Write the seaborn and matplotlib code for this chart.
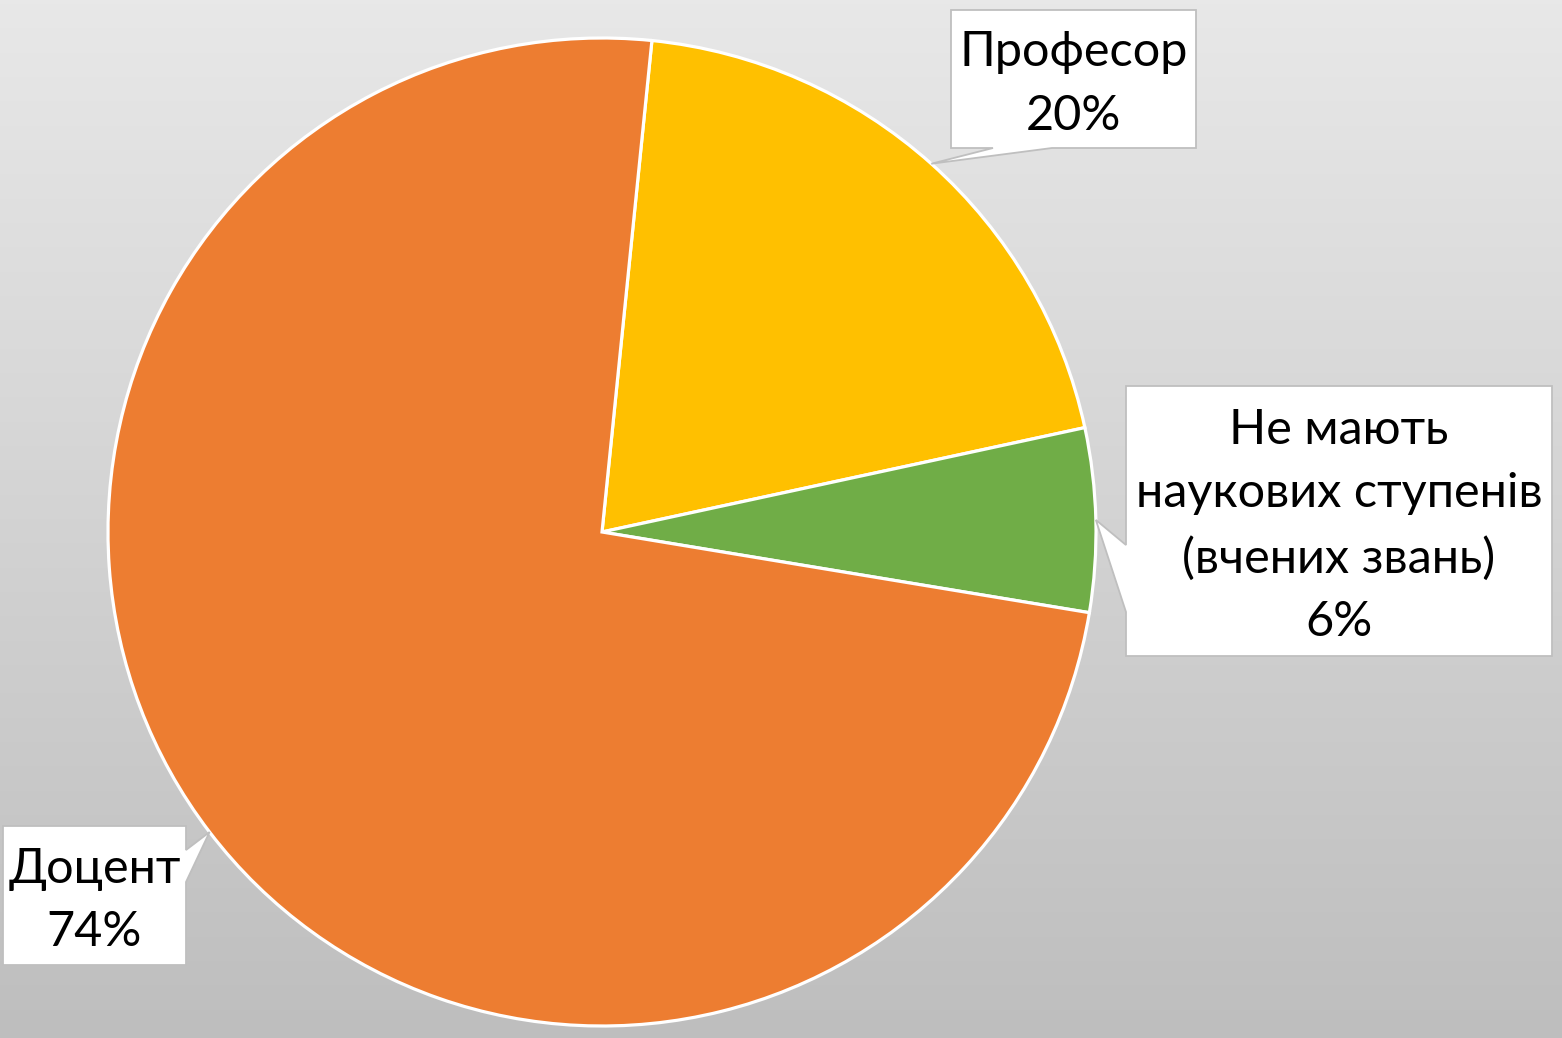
import numpy as np
import matplotlib
matplotlib.use("Agg")
import matplotlib.pyplot as plt
from matplotlib.patches import Polygon
import seaborn as sns

# Academic staff by degree / title
categories = ["Професор", "Не мають\nнаукових ступенів\n(вчених звань)", "Доцент"]
shares = [20, 6, 74]
colors = ["#FFC000", "#70AD47", "#ED7D31"]

sns.set_theme(style="white")
plt.rcParams["font.family"] = ["Lato", "DejaVu Sans"]

W, H = 1562, 1038
fig = plt.figure(figsize=(W / 100, H / 100), dpi=100)

# gradient backdrop
bg = fig.add_axes([0, 0, 1, 1], zorder=0)
grad = np.linspace(0, 1, 256).reshape(-1, 1)
top, bottom = np.array([0xE8, 0xE8, 0xE8]) / 255, np.array([0xBE, 0xBE, 0xBE]) / 255
img = top[None, None, :] * (1 - grad[..., None]) + bottom[None, None, :] * grad[..., None]
bg.imshow(img, aspect="auto", extent=[0, W, H, 0])
bg.set_xlim(0, W)
bg.set_ylim(H, 0)
bg.axis("off")

# pie
cx, cy, R = 602, 532, 494
start = 84.2
pax = fig.add_axes([(cx - R) / W, (H - cy - R) / H, 2 * R / W, 2 * R / H], zorder=1)
pax.pie(shares, colors=colors, startangle=start, counterclock=False, radius=1,
        wedgeprops=dict(edgecolor="white", linewidth=2.3))
pax.set_xlim(-1, 1)
pax.set_ylim(-1, 1)
pax.set_aspect("equal")
pax.axis("off")

# callout overlay in pixel coordinates
ov = fig.add_axes([0, 0, 1, 1], zorder=2)
ov.set_xlim(0, W)
ov.set_ylim(H, 0)
ov.patch.set_alpha(0)
ov.axis("off")

total = sum(shares)
cum = np.cumsum([0] + shares[:-1])
mids = [start - 360 * (c + v / 2) / total for c, v in zip(cum, shares)]
tips = [(cx + R * np.cos(np.radians(a)), cy - R * np.sin(np.radians(a))) for a in mids]

# box (x0, y0, x1, y1), side holding the pointer, pointer base span
boxes = [
    ((951, 10, 1196, 148), "bottom", (993, 1052)),
    ((1126, 386, 1552, 656), "left", (545, 612)),
    ((3, 826, 186, 965), "right", (850, 882)),
]

for (box, side, span), tip, cat, v in zip(boxes, tips, categories, shares):
    x0, y0, x1, y1 = box
    if side == "bottom":
        pts = [(x0, y0), (x1, y0), (x1, y1), (span[1], y1), tip, (span[0], y1), (x0, y1)]
    elif side == "left":
        pts = [(x0, y0), (x1, y0), (x1, y1), (x0, y1), (x0, span[1]), tip, (x0, span[0])]
    else:
        pts = [(x0, y0), (x1, y0), (x1, span[0]), tip, (x1, span[1]), (x1, y1), (x0, y1)]
    ov.add_patch(Polygon(pts, closed=True, facecolor="white", edgecolor="#BFBFBF",
                         linewidth=1.3, joinstyle="miter"))
    ov.text((x0 + x1) / 2, (y0 + y1) / 2 + 5, f"{cat}\n{v}%", ha="center", va="center",
            fontsize=35, color="black", linespacing=1.55)

fig.savefig("out.png", dpi=100)
